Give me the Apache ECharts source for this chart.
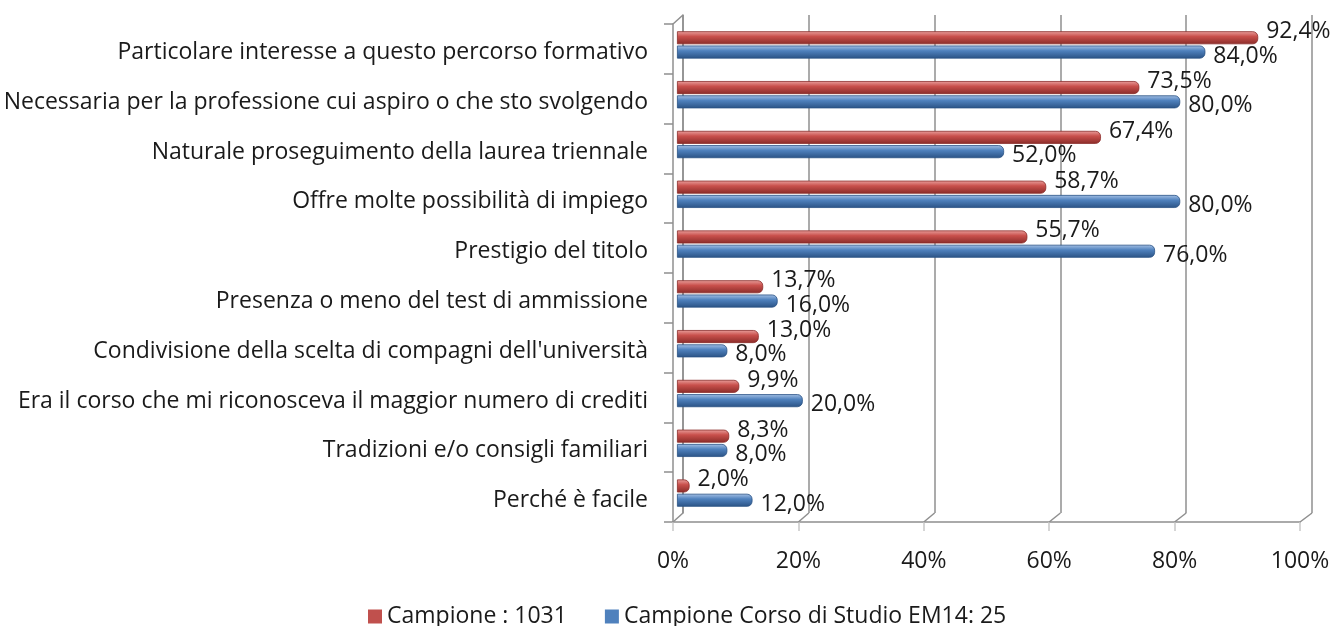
<!DOCTYPE html>
<html>
<head>
<meta charset="utf-8">
<script src="https://cdn.jsdelivr.net/npm/echarts@6/dist/echarts.min.js"></script>
<style>
html,body{margin:0;padding:0;background:#fff;}
#chart{width:1335px;height:626px;}
</style>
</head>
<body>
<div id="chart"></div>
<script>
const categories = [
  "Particolare interesse a questo percorso formativo",
  "Necessaria per la professione cui aspiro o che sto svolgendo",
  "Naturale proseguimento della laurea triennale",
  "Offre molte possibilità di impiego",
  "Prestigio del titolo",
  "Presenza o meno del test di ammissione",
  "Condivisione della scelta di compagni dell'università",
  "Era il corso che mi riconosceva il maggior numero di crediti",
  "Tradizioni e/o consigli familiari",
  "Perché è facile"
];
const seriesNames = ["Campione : 1031", "Campione Corso di Studio EM14: 25"];
const campione = [92.4, 73.5, 67.4, 58.7, 55.7, 13.7, 13.0, 9.9, 8.3, 2.0];
const corso = [84.0, 80.0, 52.0, 80.0, 76.0, 16.0, 8.0, 20.0, 8.0, 12.0];
const xTicks = [0, 20, 40, 60, 80, 100];

const FONT = "Open Sans";
const FS = 23;
const TXT = '#1a1a1a';
const LINE = '#8f8f8f';
const W = 1335, H = 626;
// 3D box: front plane, middle (bars), back wall
const gFront = {left: 673, right: 35, top: 24, bottom: 104};
const gMid = {left: 677, right: 29, top: 20, bottom: 108};
const gBack = {left: 683, right: 23, top: 15, bottom: 113};

const fmt = v => v.toFixed(1).replace('.', ',') + '%';
function grad(light, mid, dark) {
  return new echarts.graphic.LinearGradient(0, 0, 0, 1, [
    {offset: 0, color: light}, {offset: 0.4, color: mid}, {offset: 1, color: dark}
  ]);
}

const chart = echarts.init(document.getElementById('chart'));
chart.setOption({
  backgroundColor: '#ffffff',
  animation: false,
  textStyle: {fontFamily: FONT},
  grid: [
    Object.assign({containLabel: false}, gFront),
    Object.assign({containLabel: false}, gMid),
    Object.assign({containLabel: false}, gBack)
  ],
  legend: {
    top: 600, left: 363,
    itemWidth: 14, itemHeight: 14, itemGap: 38, icon: 'rect',
    textStyle: {fontSize: FS, color: TXT, fontFamily: FONT},
    data: [
      {name: seriesNames[0], itemStyle: {color: '#C0504D', borderWidth: 0}},
      {name: seriesNames[1], itemStyle: {color: '#4F81BD', borderWidth: 0}}
    ]
  },
  xAxis: [
    { // front axis: line, ticks, labels
      gridIndex: 0, type: 'value', min: 0, max: 100, interval: 20,
      axisLine: {show: true, lineStyle: {color: LINE, width: 1.5}},
      axisTick: {show: true, length: 9, lineStyle: {color: '#c8c8c8', width: 1.5}},
      splitLine: {show: false},
      axisLabel: {margin: 28, fontSize: FS, color: TXT, fontFamily: FONT,
        formatter: v => xTicks.includes(v) ? v + '%' : ''}
    },
    { // middle: bars
      gridIndex: 1, type: 'value', min: 0, max: 100, interval: 20, show: false
    },
    { // back wall gridlines
      gridIndex: 2, type: 'value', min: 0, max: 100, interval: 20,
      axisLine: {show: false}, axisTick: {show: false}, axisLabel: {show: false},
      splitLine: {show: true, lineStyle: {color: LINE, width: 1.5}}
    }
  ],
  yAxis: [
    {
      gridIndex: 0, type: 'category', data: categories, inverse: true,
      axisLine: {show: true, lineStyle: {color: LINE, width: 1.5}},
      axisTick: {show: true, length: 9, lineStyle: {color: LINE, width: 1.5}},
      axisLabel: {margin: 25, fontSize: FS, color: TXT, fontFamily: FONT,
        formatter: v => '{a|' + v + '}',
        rich: {a: {fontSize: FS, color: TXT, fontFamily: FONT, padding: [7, 0, 0, 0]}}}
    },
    {
      gridIndex: 1, type: 'category', data: categories, inverse: true, show: false
    },
    {
      gridIndex: 2, type: 'category', data: categories, inverse: true,
      axisLine: {show: true, lineStyle: {color: LINE, width: 1.5}},
      axisTick: {show: false}, axisLabel: {show: false}, splitLine: {show: false}
    }
  ],
  series: [
    {
      name: seriesNames[0], type: 'bar', data: campione, xAxisIndex: 1, yAxisIndex: 1,
      barWidth: 13, barGap: '10%', barCategoryGap: '40%', z: 5,
      itemStyle: {color: grad('#e9a09d', '#c9504c', '#8a2c29'), borderColor: '#8a2c29', borderWidth: 0.8, borderRadius: [0, 5, 5, 0]},
      label: {show: true, position: 'right', distance: 8, offset: [0, -6], formatter: p => fmt(p.value),
        fontSize: FS, color: TXT, fontFamily: FONT}
    },
    {
      name: seriesNames[1], type: 'bar', data: corso, xAxisIndex: 1, yAxisIndex: 1,
      barWidth: 13, z: 5,
      itemStyle: {color: grad('#a7c2e6', '#4f81bd', '#2a5284'), borderColor: '#2a5284', borderWidth: 0.8, borderRadius: [0, 5, 5, 0]},
      label: {show: true, position: 'right', distance: 8, offset: [0, 4], formatter: p => fmt(p.value),
        fontSize: FS, color: TXT, fontFamily: FONT}
    }
  ]
});

// slanted floor/wall connectors between the front plane and the back wall
const lines = [];
const ls = {stroke: LINE, lineWidth: 1.5};
xTicks.forEach(v => {
  const fx = chart.convertToPixel({xAxisIndex: 0}, v);
  const bx = chart.convertToPixel({xAxisIndex: 2}, v);
  lines.push({type: 'line', silent: true, z: 1,
    shape: {x1: fx, y1: H - gFront.bottom, x2: bx, y2: H - gBack.bottom}, style: ls});
});
lines.push({type: 'line', silent: true, z: 1,
  shape: {x1: gFront.left, y1: gFront.top, x2: gBack.left, y2: gBack.top}, style: ls});
chart.setOption({graphic: lines});
</script>
</body>
</html>
